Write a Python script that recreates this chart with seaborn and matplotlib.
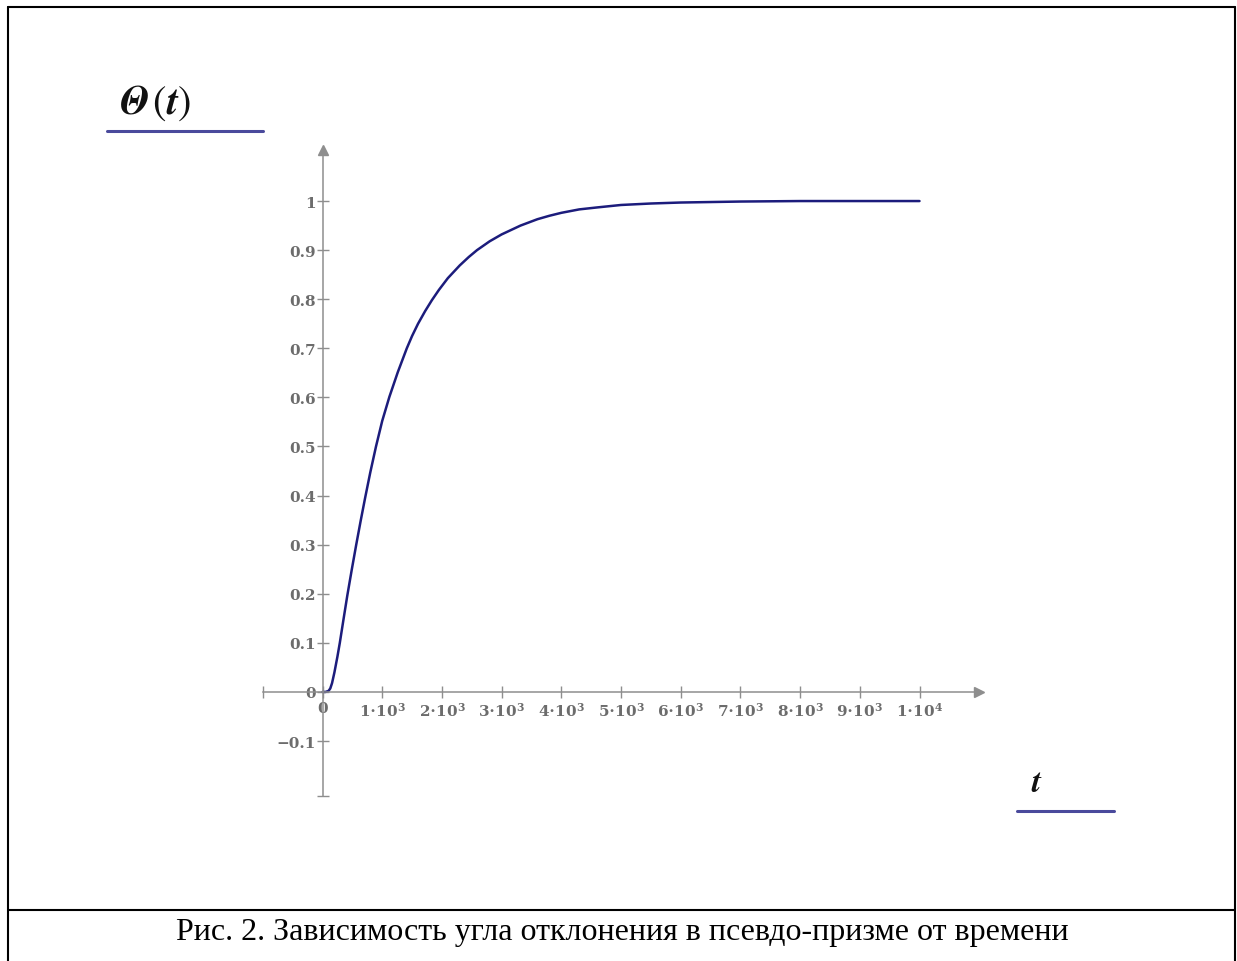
import matplotlib
matplotlib.use('Agg')
import matplotlib.pyplot as plt
from matplotlib.lines import Line2D
import seaborn as sns

# ==============================================================================
# DATA
# ==============================================================================
t_values = [0, 50, 100, 130, 160, 200, 250, 290, 352, 415, 490, 565, 640, 715,
            800, 896, 1000, 1120, 1260, 1412, 1500, 1600, 1720, 1832, 1950, 2100,
            2300, 2450, 2588, 2800, 3000, 3316, 3600, 3800, 4000, 4300, 4600,
            5000, 5500, 6000, 6500, 7000, 8000, 9000, 10000]
theta_values = [0, 0, 0.002, 0.007, 0.018, 0.04, 0.072, 0.1, 0.148, 0.196, 0.249,
                0.3, 0.349, 0.396, 0.447, 0.5, 0.552, 0.601, 0.651, 0.7, 0.725,
                0.75, 0.776, 0.798, 0.819, 0.843, 0.869, 0.886, 0.9, 0.918, 0.932,
                0.95, 0.963, 0.97, 0.976, 0.983, 0.987, 0.992, 0.995, 0.997,
                0.998, 0.999, 1.0, 1.0, 1.0]

x_ticks = [-1000, 0, 1000, 2000, 3000, 4000, 5000, 6000, 7000, 8000, 9000, 10000]
x_labels = ['', '0'] + [r'$\mathbf{%d{\cdot}10^{3}}$' % k for k in range(1, 10)] \
    + [r'$\mathbf{1{\cdot}10^{4}}$']
y_ticks = [-0.2115, -0.1, 0, 0.1, 0.2, 0.3, 0.4, 0.5, 0.6, 0.7, 0.8, 0.9, 1]
y_labels = ['', '−0.1', '0', '0.1', '0.2', '0.3', '0.4', '0.5', '0.6', '0.7',
            '0.8', '0.9', '1']

caption = 'Рис. 2. Зависимость угла отклонения в псевдо-призме от времени'

# ==============================================================================
# STYLE
# ==============================================================================
W, H = 1237, 962
CURVE_COLOR = '#1c1c7c'
LABEL_LINE = '#4a4a9c'
AXIS_COLOR = '#8e8e8e'
TICK_TEXT = '#6c6c6c'

sns.set_style('white')
plt.rcParams['font.family'] = ['DejaVu Serif']
plt.rcParams['mathtext.fontset'] = 'dejavuserif'

fig = plt.figure(figsize=(W / 100, H / 100), dpi=100)
ax = fig.add_axes([262.8 / W, (H - 797) / H, 716.4 / W, 646 / H])
ax.set_facecolor('none')

sns.lineplot(x=t_values, y=theta_values, ax=ax, color=CURVE_COLOR, lw=1.8)

ax.set_xlim(-1000, 11000)
ax.set_ylim(-0.212, 1.104)

# axes crossing at the origin
for side in ['top', 'right']:
    ax.spines[side].set_visible(False)
for side in ['left', 'bottom']:
    ax.spines[side].set_position(('data', 0))
    ax.spines[side].set_color(AXIS_COLOR)
    ax.spines[side].set_linewidth(1.1)

ax.plot(1, 0, '>', color=AXIS_COLOR, ms=7, transform=ax.get_yaxis_transform(), clip_on=False)
ax.plot(0, 1, '^', color=AXIS_COLOR, ms=7, transform=ax.get_xaxis_transform(), clip_on=False)

ax.set_xticks(x_ticks)
ax.set_xticklabels(x_labels)
ax.set_yticks(y_ticks)
ax.set_yticklabels(y_labels)
ax.tick_params(axis='both', bottom=True, left=True, direction='inout', length=9,
               width=1, color=AXIS_COLOR, labelcolor=TICK_TEXT, labelsize=11)
ax.tick_params(axis='x', pad=2)
ax.tick_params(axis='y', pad=0)
for lab in ax.get_xticklabels() + ax.get_yticklabels():
    lab.set_fontweight('bold')

ax.set_xlabel('')
ax.set_ylabel('')

# ==============================================================================
# LABELS, UNDERLINES, FRAME, CAPTION
# ==============================================================================
fig.text(119 / W, 1 - 114 / H, r'$\mathbfit{\Theta}\,(\mathbfit{t})$', fontsize=29,
         math_fontfamily='stix', color='#111111', ha='left', va='baseline')
fig.add_artist(Line2D([107 / W, 263 / W], [1 - 132 / H] * 2, color=LABEL_LINE, lw=2.2))

fig.text(1031 / W, 1 - 792 / H, r'$\mathbfit{t}$', fontsize=24, math_fontfamily='stix',
         color='#111111', ha='left', va='baseline')
fig.add_artist(Line2D([1017 / W, 1114 / W], [1 - 812 / H] * 2, color=LABEL_LINE, lw=2.2))

frame_kw = dict(color='black', lw=1.5)
fig.add_artist(Line2D([8 / W, 8 / W], [0, 1 - 8 / H], **frame_kw))
fig.add_artist(Line2D([8 / W, 1235 / W], [1 - 8 / H] * 2, **frame_kw))
fig.add_artist(Line2D([1235 / W, 1235 / W], [0, 1 - 8 / H], **frame_kw))
fig.add_artist(Line2D([8 / W, 1235 / W], [1 - 911 / H] * 2, **frame_kw))

fig.text(622 / W, 1 - 933 / H, caption, fontsize=23, family='Liberation Serif',
         color='black', ha='center', va='center')

plt.savefig('out.png', dpi=100)
plt.close()
